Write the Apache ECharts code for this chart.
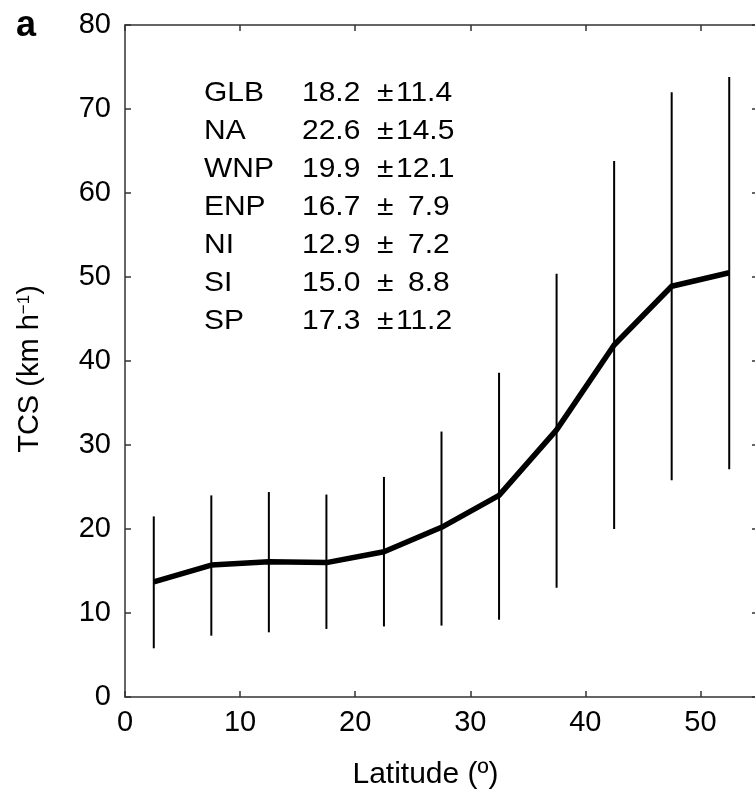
<!DOCTYPE html>
<html>
<head>
<meta charset="utf-8">
<script src="https://cdn.jsdelivr.net/npm/echarts@6.0.0/dist/echarts.min.js"></script>
<style>
  html, body { margin: 0; padding: 0; background: #fff; }
  #main { width: 755px; height: 789px; }
</style>
</head>
<body>
<div id="main"></div>
<script>
// 纬度带中心及平均移速
const latitudes = [2.5, 7.5, 12.5, 17.5, 22.5, 27.5, 32.5, 37.5, 42.5, 47.5, 52.5];
const meanSpeed = [13.7, 15.7, 16.1, 16.0, 17.3, 20.2, 24.0, 31.8, 41.9, 48.9, 50.5];
const lowSpeed = [5.8, 7.3, 7.7, 8.1, 8.4, 8.5, 9.2, 13.0, 20.0, 25.8, 27.1];
const highSpeed = [21.5, 24.0, 24.4, 24.1, 26.2, 31.6, 38.6, 50.4, 63.8, 72.0, 73.8];

// 各海域统计表
const regions = ["GLB", "NA", "WNP", "ENP", "NI", "SI", "SP"];
const regionMean = ["18.2", "22.6", "19.9", "16.7", "12.9", "15.0", "17.3"];
const regionSd = ["11.4", "14.5", "12.1", "7.9", "7.2", "8.8", "11.2"];

const xTicks = [0, 10, 20, 30, 40, 50];

const FONT = "Liberation Sans";
const FS = 29;
const axisColor = "#333";

const chart = echarts.init(document.getElementById("main"));

// 统计表文字
const tableGraphics = [];
const addText = (text, x, y) => {
    tableGraphics.push({
        type: "text",
        x: x,
        y: y,
        scaleX: 1.07,
        style: { text: text, fontSize: 28, fontFamily: FONT, fill: "#000", verticalAlign: "middle", align: "left" },
    });
};
regions.forEach((r, i) => {
    const y = 93 + i * 38;
    addText(r, 204, y);
    addText(regionMean[i], 302, y);
    addText("±", 377, y);
    addText(regionSd[i], regionSd[i].length > 3 ? 396 : 408, y);
});

const makeLine = () => ({ show: true, onZero: false, lineStyle: { color: axisColor, width: 1.5 } });
const makeTick = () => ({ show: true, inside: true, length: 6, lineStyle: { color: axisColor, width: 1.5 } });

chart.setOption({
    animation: false,
    backgroundColor: "#fff",
    grid: { left: 125, top: 25, width: 633, height: 672, outerBoundsMode: "none", containLabel: false },
    xAxis: [
        {
            type: "value",
            min: 0,
            max: 55,
            interval: 10,
            position: "bottom",
            axisLine: makeLine(),
            axisTick: makeTick(),
            splitLine: { show: false },
            axisLabel: {
                fontSize: FS, fontFamily: FONT, color: "#000", margin: 11,
                showMaxLabel: false,
                formatter: (v) => (xTicks.includes(v) ? String(v) : ""),
            },
            name: "Latitude (º)",
            nameLocation: "middle",
            nameGap: 63,
            nameTextStyle: { fontSize: 30, fontFamily: FONT, color: "#000", padding: [0, 32, 0, 0] },
        },
        {
            type: "value",
            min: 0,
            max: 55,
            interval: 10,
            position: "top",
            axisLine: makeLine(),
            axisTick: makeTick(),
            axisLabel: { show: false },
            splitLine: { show: false },
        },
    ],
    yAxis: [
        {
            type: "value",
            min: 0,
            max: 80,
            interval: 10,
            position: "left",
            axisLine: makeLine(),
            axisTick: makeTick(),
            splitLine: { show: false },
            axisLabel: { fontSize: FS, fontFamily: FONT, color: "#000", margin: 14 },
        },
        {
            type: "value",
            min: 0,
            max: 80,
            interval: 10,
            position: "right",
            axisLine: makeLine(),
            axisTick: makeTick(),
            axisLabel: { show: false },
            splitLine: { show: false },
        },
    ],
    series: [
        {
            // 误差棒
            type: "custom",
            data: latitudes.map((x, i) => [x, lowSpeed[i], highSpeed[i]]),
            renderItem: (params, api) => {
                const p1 = api.coord([api.value(0), api.value(1)]);
                const p2 = api.coord([api.value(0), api.value(2)]);
                return {
                    type: "line",
                    shape: { x1: p1[0], y1: p1[1], x2: p2[0], y2: p2[1] },
                    style: { stroke: "#000", lineWidth: 2 },
                };
            },
            z: 2,
        },
        {
            type: "line",
            data: latitudes.map((x, i) => [x, meanSpeed[i]]),
            symbol: "none",
            lineStyle: { color: "#000", width: 5.5, join: "round" },
            z: 3,
        },
    ],
    graphic: [
        {
            type: "text",
            x: 16,
            y: 26,
            style: { text: "a", fontSize: 36, fontWeight: "bold", fontFamily: FONT, fill: "#000", verticalAlign: "middle" },
        },
        {
            // y 轴标题（竖排）
            type: "text",
            x: 30,
            y: 369,
            rotation: Math.PI / 2,
            style: {
                text: "TCS (km h{sup|−1})",
                fontSize: 29,
                fontFamily: FONT,
                fill: "#000",
                align: "center",
                verticalAlign: "middle",
                rich: { sup: { fontSize: 17, fontFamily: FONT, fill: "#000", verticalAlign: "top", padding: [0, 0, 12, 0] } },
            },
        },
    ].concat(tableGraphics),
});
</script>
</body>
</html>
